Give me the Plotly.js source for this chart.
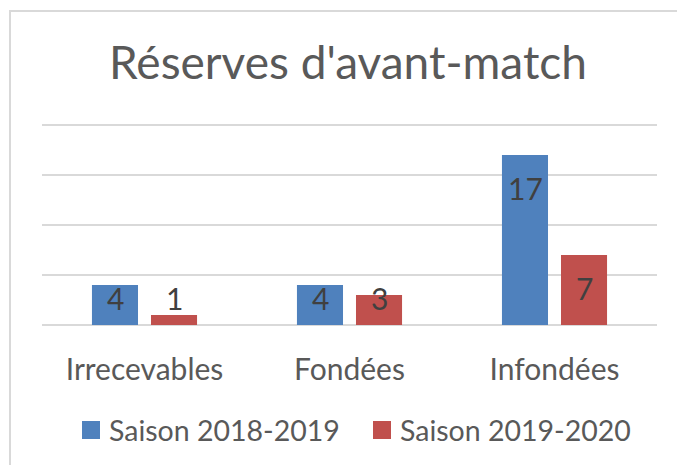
<!DOCTYPE html>
<html>
<head>
<meta charset="utf-8">
<script src="https://cdn.plot.ly/plotly-3.0.1.min.js"></script>
<style>html,body{margin:0;padding:0;background:#fff;}#chart{width:677px;height:465px;}</style>
</head>
<body>
<div id="chart"></div>
<script>
const categories = ["Irrecevables", "Fondées", "Infondées"];
const seriesNames = ["Saison 2018-2019", "Saison 2019-2020"];
const season1 = [4, 4, 17];
const season2 = [1, 3, 7];
const colors = ["#4F81BD", "#C0504D"];
const FONT = "Lato, 'Open Sans', sans-serif";

const seriesValues = [season1, season2];
const traces = seriesValues.map((vals, i) => ({
  type: "bar", x: categories, y: vals, name: seriesNames[i],
  marker: {color: colors[i]}, showlegend: false, hoverinfo: "skip"
}));

// plot area in px: x 42..657, y 122..325 (value 20 at y=125)
const px = (x) => (x - 42) / 615;
const py = (y) => (325 - y) / 203;

const annotations = [];
seriesValues.forEach((vals, i) => {
  vals.forEach((v, j) => {
    const inside = v * 10 - 33 >= 27;
    annotations.push({
      x: categories[j], y: inside ? v : 0, xref: "x", yref: "y",
      xshift: i === 0 ? -29.5 : 29.5, yshift: inside ? -33 : 27,
      yanchor: "middle", showarrow: false, text: String(v),
      font: {family: FONT, size: 30, color: "#404040"}
    });
  });
});

// manual legend
const legendX = [82, 373];
const shapes = [{type: "rect", xref: "paper", yref: "paper", x0: px(10), x1: px(700), y0: py(480), y1: py(11),
            line: {color: "#d9d9d9", width: 2}, fillcolor: "rgba(0,0,0,0)", layer: "below"}];
seriesNames.forEach((name, i) => {
  shapes.push({type: "rect", xref: "paper", yref: "paper", x0: px(legendX[i]), x1: px(legendX[i] + 18),
               y0: py(439), y1: py(421), line: {width: 0}, fillcolor: colors[i]});
  annotations.push({x: px(legendX[i] + 25), y: py(430), xref: "paper", yref: "paper", xanchor: "left",
                    yanchor: "middle", showarrow: false, text: name,
                    font: {family: FONT, size: 28.5, color: "#595959"}});
});

const layout = {
  width: 677, height: 465,
  margin: {l: 42, r: 20, t: 122, b: 140},
  paper_bgcolor: "#fff", plot_bgcolor: "#fff",
  title: {text: "Réserves d'avant-match", x: 0.514, xanchor: "center", y: 0.865, yanchor: "middle",
          font: {family: FONT, size: 46, color: "#595959"}},
  barmode: "group", bargap: 0.424, bargroupgap: 0.22,
  showlegend: false,
  xaxis: {type: "category", showgrid: false, showline: false, zeroline: false, ticks: "",
          tickfont: {family: FONT, size: 30, color: "#595959"}, ticklabelstandoff: 24, fixedrange: true},
  yaxis: {range: [0, 20.3], tickvals: [0, 5, 10, 15, 20], showticklabels: false, showgrid: true, gridcolor: "#d9d9d9",
          gridwidth: 2, zeroline: true, zerolinecolor: "#d9d9d9", zerolinewidth: 2, showline: false, fixedrange: true},
  shapes: shapes,
  annotations: annotations
};

Plotly.newPlot("chart", traces, layout, {displayModeBar: false, staticPlot: true});
</script>
</body>
</html>
